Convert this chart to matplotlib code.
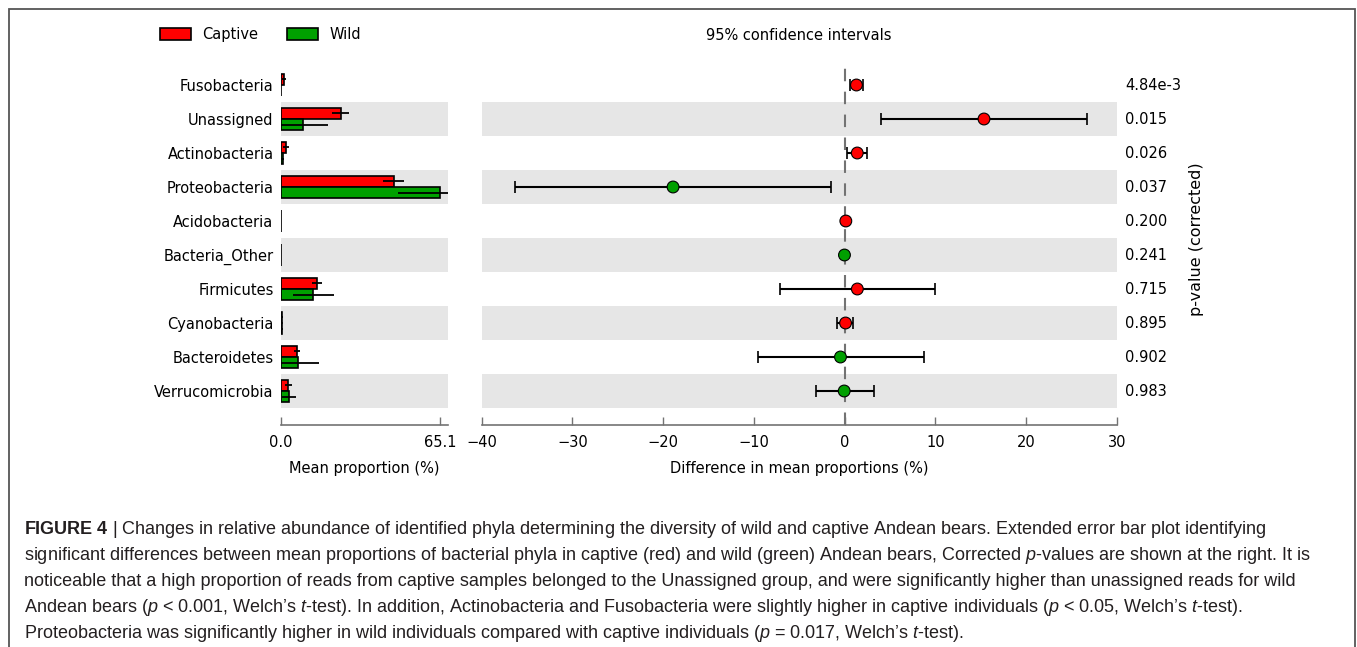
import numpy as np
import matplotlib
matplotlib.use('Agg')
import matplotlib.pyplot as plt
from matplotlib import font_manager
from matplotlib.patches import Rectangle, Patch
from matplotlib.transforms import blended_transform_factory

#Phyla, top to bottom
phyla = ['Fusobacteria', 'Unassigned', 'Actinobacteria', 'Proteobacteria', 'Acidobacteria',
         'Bacteria_Other', 'Firmicutes', 'Cyanobacteria', 'Bacteroidetes', 'Verrucomicrobia']

#Mean proportion (%) and std per group
captive_mean = [1.4, 24.6, 2.3, 46.3, 0.15, 0.08, 14.9, 0.7, 6.7, 3.2]
captive_sd = [0.7, 3.5, 1.1, 4.3, 0.1, 0.05, 2.0, 0.5, 1.2, 1.5]
wild_mean = [0.1, 9.3, 0.9, 65.1, 0.05, 0.1, 13.4, 0.5, 7.1, 3.5]
wild_sd = [0.05, 10.0, 0.5, 17.0, 0.05, 0.05, 8.3, 0.5, 8.8, 2.8]

#Difference in mean proportions with 95% CI
diff = [1.3, 15.35, 1.39, -18.9, 0.13, -0.02, 1.4, 0.1, -0.46, -0.05]
ci_low = [0.6, 4.0, 0.23, -36.3, 0.05, -0.08, -7.1, -0.8, -9.5, -3.2]
ci_high = [2.0, 26.7, 2.5, -1.5, 0.2, 0.04, 9.97, 0.97, 8.7, 3.2]

pvals = ['4.84e-3', '0.015', '0.026', '0.037', '0.200', '0.241', '0.715', '0.895', '0.902', '0.983']

c_captive = '#ff0000'
c_wild = '#00a000'

plt.rcParams['font.family'] = 'DejaVu Sans'
plt.rcParams['font.size'] = 10.5

W, H = 1357, 647
fig = plt.figure(figsize=(W/100., H/100.), dpi=100)

def px_axes(x0, y0, x1, y1):
    return fig.add_axes([x0/W, 1 - y1/H, (x1 - x0)/W, (y1 - y0)/H])

ax1 = px_axes(280.5, 68, 448, 425)
ax2 = px_axes(481.5, 68, 1117, 425)

n = len(phyla)
ypos = np.arange(n)[::-1]

for ax in (ax1, ax2):
    for s in ['top', 'right', 'left']:
        ax.spines[s].set_visible(False)
    ax.spines['bottom'].set_color('0.45')
    ax.spines['bottom'].set_linewidth(1.2)
    ax.tick_params(axis='x', direction='in', length=6, color='0.45', width=1.0, pad=7)
    ax.tick_params(axis='y', length=0)
    ax.set_ylim(-1, n - 0.5)
    #alternating background bands
    for i, y in enumerate(ypos):
        if i % 2 == 1:
            ax.axhspan(y - 0.5, y + 0.5, color='0.9', lw=0, zorder=0)

#Mean proportion bars
h = 0.33
bar_opt = {'height': h, 'edgecolor': 'k', 'linewidth': 1.2, 'zorder': 2}
ax1.barh(ypos + h/2, captive_mean, color=c_captive, **bar_opt)
ax1.barh(ypos - h/2, wild_mean, color=c_wild, **bar_opt)
err_opt = {'fmt': 'none', 'ecolor': 'k', 'elinewidth': 1.3, 'capsize': 0, 'zorder': 3}
ax1.errorbar(captive_mean, ypos + h/2, xerr=captive_sd, **err_opt)
ax1.errorbar(wild_mean, ypos - h/2, xerr=wild_sd, **err_opt)
maxprop = max(max(captive_mean), max(wild_mean))
ax1.set_xlim(0, maxprop*1.05)
ax1.set_xticks([0, maxprop])
ax1.set_xticklabels(['%0.1f' % 0, '%0.1f' % maxprop])
ax1.set_yticks(ypos)
ax1.set_yticklabels(phyla)
ax1.tick_params(axis='y', pad=5)
ax1.set_xlabel('Mean proportion (%)', labelpad=8)

#Difference in mean proportions with CI
diff = np.array(diff)
xerr = np.array([diff - np.array(ci_low), np.array(ci_high) - diff])
ax2.axvline(0, color='0.45', ls='--', lw=1.5, dashes=(6, 5), zorder=1)
ax2.errorbar(diff, ypos, xerr=xerr, fmt='none', ecolor='k', elinewidth=1.5,
             capsize=4, capthick=1.2, zorder=3)
cols = [c_captive if d > 0 else c_wild for d in diff]
ax2.scatter(diff, ypos, s=72, c=cols, edgecolors='k', linewidths=0.8, zorder=4)
ax2.set_xlim(-40, 30)
ax2.set_xticks(np.arange(-40, 31, 10))
ax2.set_yticks([])
ax2.set_xlabel('Difference in mean proportions (%)', labelpad=8)
ax2.set_title('95% confidence intervals', pad=20, fontsize=10.5)

trans = blended_transform_factory(ax2.transAxes, ax2.transData)
for y, p in zip(ypos, pvals):
    ax2.text(1.0127, y, p, transform=trans, va='center', ha='left')
fig.text(1197/W, 1 - 239/H, 'p-value (corrected)', rotation=90, va='center', ha='center',
         fontsize=11.5)

handles = [Patch(facecolor=c_captive, edgecolor='k', lw=1.2, label='Captive'),
           Patch(facecolor=c_wild, edgecolor='k', lw=1.2, label='Wild')]
fig.legend(handles=handles, loc='upper left', bbox_to_anchor=(160/W, 1 - 27/H), ncol=2,
           frameon=False, handlelength=2.1, handleheight=0.85, columnspacing=2.0,
           handletextpad=0.8, borderaxespad=0, borderpad=0)

#Caption block
names = set(f.name for f in font_manager.fontManager.ttflist)
cap_font = 'Liberation Sans Narrow' if 'Liberation Sans Narrow' in names else 'Liberation Sans'
plt.rcParams['mathtext.fontset'] = 'custom'
plt.rcParams['mathtext.rm'] = cap_font
plt.rcParams['mathtext.it'] = cap_font + ':italic'
plt.rcParams['mathtext.bf'] = cap_font + ':bold'

caption = [
    r"$\mathbf{FIGURE\ 4}$ | Changes in relative abundance of identified phyla determining the diversity of wild and captive Andean bears. Extended error bar plot identifying",
    r"significant differences between mean proportions of bacterial phyla in captive (red) and wild (green) Andean bears, Corrected $p$-values are shown at the right. It is",
    r"noticeable that a high proportion of reads from captive samples belonged to the Unassigned group, and were significantly higher than unassigned reads for wild",
    r"Andean bears ($p$ < 0.001, Welch’s $t$-test). In addition, Actinobacteria and Fusobacteria were slightly higher in captive individuals ($p$ < 0.05, Welch’s $t$-test).",
    r"Proteobacteria was significantly higher in wild individuals compared with captive individuals ($p$ = 0.017, Welch’s $t$-test).",
]
cap_size = 15.5 if cap_font == 'Liberation Sans Narrow' else 13
for i, line in enumerate(caption):
    fig.text(24/W, 1 - (529 + 26.2*i)/H, line, family=cap_font, fontsize=cap_size,
             color='#231f20', va='center', ha='left')

fig.add_artist(Rectangle((8.5/W, -0.05), (1355 - 8.5)/W, (H - 9)/H + 0.05,
                         transform=fig.transFigure, fill=False, ec='#555555', lw=1.3))

fig.savefig('out.png', dpi=100)
